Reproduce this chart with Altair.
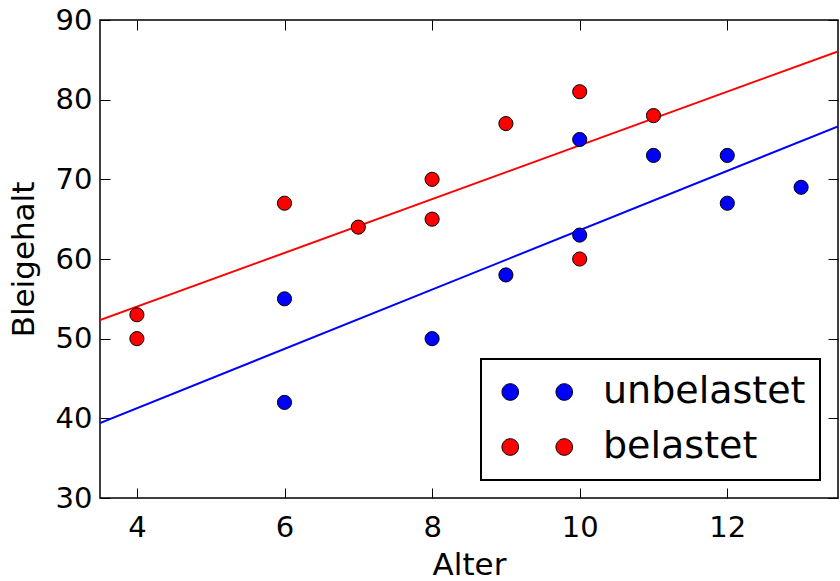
import altair as alt
import pandas as pd

# --- data ---
alter_unbelastet = [6, 6, 8, 9, 10, 10, 11, 12, 12, 13]
blei_unbelastet = [42, 55, 50, 58, 63, 75, 73, 73, 67, 69]
alter_belastet = [4, 4, 6, 7, 8, 8, 9, 10, 10, 11]
blei_belastet = [50, 53, 67, 64, 70, 65, 77, 81, 60, 78]
gruppen = ["unbelastet", "belastet"]
farben = ["#0000ff", "#ff0000"]
x_ticks = [4, 6, 8, 10, 12]
y_ticks = [30, 40, 50, 60, 70, 80, 90]
x_domain = [3.5, 13.5]
y_domain = [30, 90]

df = pd.DataFrame({
    "Alter": alter_unbelastet + alter_belastet,
    "Bleigehalt": blei_unbelastet + blei_belastet,
    "Gruppe": [gruppen[0]] * len(alter_unbelastet) + [gruppen[1]] * len(alter_belastet),
})

FONT = "DejaVu Sans"
xscale = alt.Scale(domain=x_domain, nice=False, zero=False)
yscale = alt.Scale(domain=y_domain, nice=False, zero=False)
cscale = alt.Scale(domain=gruppen, range=farben)
# same mapping, listed in the other order so its (hidden) legend stays separate
lscale = alt.Scale(domain=gruppen[::-1], range=farben[::-1])

axis_common = dict(domain=False, ticks=True, tickSize=10, tickColor="black", tickWidth=1,
                   grid=False, offset=-10, labelFont=FONT, labelFontSize=29,
                   labelColor="black")
axis_title = dict(titleFont=FONT, titleFontSize=31, titleColor="black",
                  titleFontWeight="normal")

# two markers per legend entry (matplotlib numpoints=2)
two_dots = ("M -1.45 0 A 1 1 0 1 0 0.55 0 A 1 1 0 1 0 -1.45 0 Z "
            "M 5.05 0 A 1 1 0 1 0 7.05 0 A 1 1 0 1 0 5.05 0 Z")

points = alt.Chart(df).mark_circle(size=200, stroke="black", strokeWidth=1, opacity=1).encode(
    x=alt.X("Alter:Q", scale=xscale,
            axis=alt.Axis(orient="bottom", values=x_ticks, labelPadding=15,
                          titlePadding=8, title="Alter", **axis_common, **axis_title)),
    y=alt.Y("Bleigehalt:Q", scale=yscale,
            axis=alt.Axis(orient="left", values=y_ticks, labelPadding=8,
                          titlePadding=15, title="Bleigehalt", **axis_common, **axis_title)),
    color=alt.Color("Gruppe:N", scale=cscale, sort=gruppen,
                    legend=alt.Legend(title=None, orient="bottom-right", offset=18,
                                      symbolType=two_dots, symbolSize=276,
                                      symbolStrokeColor="black", symbolStrokeWidth=1,
                                      symbolOpacity=1,
                                      labelFont=FONT, labelFontSize=38, labelColor="black",
                                      labelLimit=0, labelOffset=70, rowPadding=17,
                                      padding=14, strokeColor="black",
                                      fillColor="white")),
)

lines = alt.Chart(df).transform_regression(
    "Alter", "Bleigehalt", groupby=["Gruppe"], extent=x_domain
).mark_line(strokeWidth=2, clip=True).encode(
    x=alt.X("Alter:Q", scale=xscale,
            axis=alt.Axis(orient="top", values=x_ticks, labels=False, title=None, **axis_common)),
    y=alt.Y("Bleigehalt:Q", scale=yscale,
            axis=alt.Axis(orient="right", values=y_ticks, labels=False, title=None, **axis_common)),
    stroke=alt.Stroke("Gruppe:N", scale=lscale, legend=None),
)

chart = alt.layer(lines, points).properties(
    width=738, height=478,
    autosize=alt.AutoSizeParams(type="none"),
    padding={"left": 100, "top": 20, "right": 2, "bottom": 83},
    background="white",
).configure_view(stroke="black", strokeWidth=1.5).configure_legend(strokeWidth=2)

chart.save("out.html", embed_options={"renderer": "svg", "actions": False})
